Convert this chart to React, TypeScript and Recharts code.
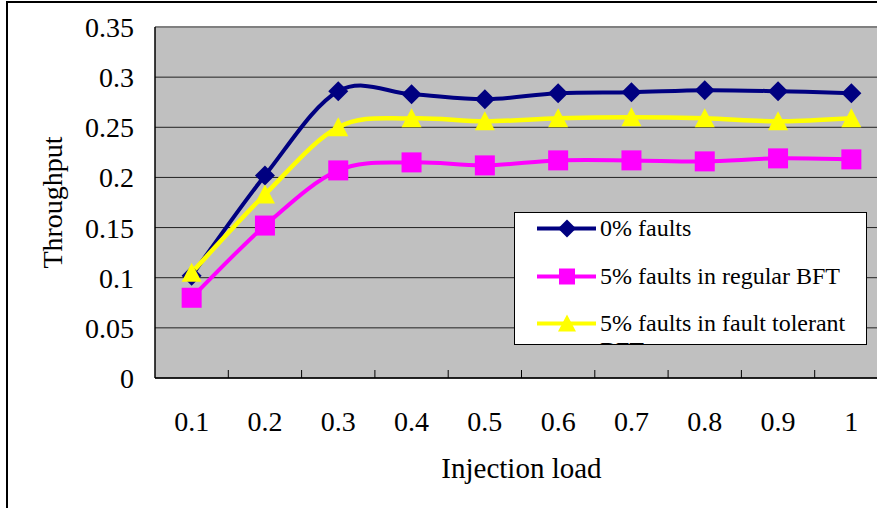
import React from "react";
import {
  LineChart,
  Line,
  XAxis,
  YAxis,
  CartesianGrid,
  Legend,
  ReferenceLine,
} from "recharts";

const LOADS = ["0.1", "0.2", "0.3", "0.4", "0.5", "0.6", "0.7", "0.8", "0.9", "1"];
const NO_FAULTS = [0.102, 0.202, 0.286, 0.283, 0.278, 0.284, 0.285, 0.287, 0.286, 0.284];
const REGULAR_BFT = [0.08, 0.152, 0.207, 0.215, 0.212, 0.217, 0.217, 0.216, 0.219, 0.218];
const TOLERANT_BFT = [0.105, 0.183, 0.25, 0.259, 0.256, 0.259, 0.26, 0.259, 0.256, 0.259];
const Y_TICKS = [0, 0.05, 0.1, 0.15, 0.2, 0.25, 0.3, 0.35];
const SERIES_ORDER = ["none", "regular", "tolerant"];

const data = LOADS.map((load, i) => ({
  load,
  none: NO_FAULTS[i],
  regular: REGULAR_BFT[i],
  tolerant: TOLERANT_BFT[i],
}));

const CHART_W = 900;
const CHART_H = 508;
const MARGIN = { top: 27, right: 12, bottom: 20, left: 55 };
const Y_AXIS_W = 100;
const X_AXIS_H = 110;
const PLOT_W = CHART_W - MARGIN.left - MARGIN.right - Y_AXIS_W;
const BAND = PLOT_W / LOADS.length;
const X_TICK_GAP = 33;

const FONT = '"Liberation Serif", "Times New Roman", serif';
const NAVY = "#000080";
const MAGENTA = "#FF00FF";
const YELLOW = "#FFFF00";

// smoothed line like the spreadsheet "smoothed line" option (Catmull-Rom through the points)
const smoothCurve = (context: any) => {
  let pts: [number, number][] = [];
  return {
    areaStart() {},
    areaEnd() {},
    lineStart() {
      pts = [];
    },
    lineEnd() {
      if (!pts.length) return;
      context.moveTo(pts[0][0], pts[0][1]);
      for (let i = 0; i < pts.length - 1; i++) {
        const p0 = pts[i - 1] || pts[i];
        const p1 = pts[i];
        const p2 = pts[i + 1];
        const p3 = pts[i + 2] || p2;
        context.bezierCurveTo(
          p1[0] + (p2[0] - p0[0]) / 6,
          p1[1] + (p2[1] - p0[1]) / 6,
          p2[0] - (p3[0] - p1[0]) / 6,
          p2[1] - (p3[1] - p1[1]) / 6,
          p2[0],
          p2[1]
        );
      }
    },
    point(x: number, y: number) {
      pts.push([+x, +y]);
    },
  };
};

/* ── marker shapes ── */
const diamond = (cx: number, cy: number, r: number, key?: string) => (
  <path key={key} d={`M${cx},${cy - r}L${cx + r},${cy}L${cx},${cy + r}L${cx - r},${cy}Z`} fill={NAVY} />
);
const square = (cx: number, cy: number, r: number, key?: string) => (
  <rect key={key} x={cx - r} y={cy - r} width={r * 2} height={r * 2} fill={MAGENTA} />
);
const triangle = (cx: number, cy: number, r: number, key?: string) => (
  <path key={key} d={`M${cx},${cy - r}L${cx + r},${cy + r * 0.9}L${cx - r},${cy + r * 0.9}Z`} fill={YELLOW} />
);

const markers: Record<string, (cx: number, cy: number, r: number, key?: string) => React.ReactElement> = {
  none: diamond,
  regular: square,
  tolerant: triangle,
};

const makeDot = (key: string, r: number) => (props: any) => {
  const { cx, cy, index } = props;
  if (cx == null || cy == null) return <g key={`${key}-${index}`} />;
  return markers[key](cx, cy, r, `${key}-${index}`);
};

function XTick({ x, y, payload }: any) {
  const axisY = y - X_TICK_GAP;
  return (
    <g>
      <line x1={x + BAND / 2} x2={x + BAND / 2} y1={axisY} y2={axisY - 8} stroke="#000" strokeWidth={1} />
      <text x={x} y={y} dy="0.71em" textAnchor="middle" fontFamily={FONT} fontSize={28} fill="#000">
        {payload.value}
      </text>
    </g>
  );
}

function LegendBox({ payload }: any) {
  const items = [...(payload || [])].sort(
    (a: any, b: any) => SERIES_ORDER.indexOf(a.dataKey) - SERIES_ORDER.indexOf(b.dataKey)
  );
  return (
    <div
      style={{
        width: 353,
        height: 133,
        boxSizing: "border-box",
        border: "1px solid #000",
        background: "#fff",
        overflow: "hidden",
        position: "relative",
        fontFamily: FONT,
        fontSize: 24,
        color: "#000",
      }}
    >
      {items.map((entry: any, i: number) => (
        <div key={entry.dataKey} style={{ position: "absolute", top: 2 + 47.5 * i, left: 0 }}>
          <svg width={62} height={27} style={{ position: "absolute", left: 22, top: 0 }}>
            <line x1={0} x2={59} y1={13.5} y2={13.5} stroke={entry.color} strokeWidth={4} />
            {markers[entry.dataKey](30, 13.5, entry.dataKey === "regular" ? 8 : 9)}
          </svg>
          <div style={{ position: "absolute", left: 85, top: 0, width: 262, lineHeight: "27px" }}>
            {entry.value}
          </div>
        </div>
      ))}
    </div>
  );
}

export default function App() {
  return (
    <div
      style={{
        position: "absolute",
        left: 0,
        top: 0,
        width: 877,
        height: 508,
        overflow: "hidden",
        background: "#fff",
      }}
    >
      {/* chart frame */}
      <div
        style={{
          position: "absolute",
          left: 6,
          top: 1,
          width: 1000,
          height: 1000,
          border: "2px solid #000",
        }}
      />
      <div style={{ position: "absolute", left: 0, top: 0 }}>
        <LineChart width={CHART_W} height={CHART_H} data={data} margin={MARGIN}>
          <CartesianGrid horizontal vertical={false} fill="#C0C0C0" stroke="#222" strokeWidth={1} />
          <XAxis
            dataKey="load"
            scale="band"
            height={X_AXIS_H}
            axisLine={{ stroke: "#000", strokeWidth: 1.5 }}
            tickLine={false}
            tickSize={0}
            tickMargin={X_TICK_GAP}
            tick={<XTick />}
            interval={0}
            label={{
              value: "Injection load",
              position: "insideBottom",
              offset: 10,
              style: { fontFamily: FONT, fontSize: 29, fill: "#000" },
            }}
          />
          <YAxis
            type="number"
            domain={[0, 0.35]}
            ticks={Y_TICKS}
            width={Y_AXIS_W}
            axisLine={{ stroke: "#000", strokeWidth: 1.5 }}
            tickLine={false}
            tickSize={0}
            tickMargin={21}
            tick={{ fontFamily: FONT, fontSize: 28, fill: "#000" }}
            label={{
              value: "Throughput",
              angle: -90,
              position: "center",
              dx: -53,
              style: { fontFamily: FONT, fontSize: 28, fill: "#000", textAnchor: "middle" },
            }}
          />
          <ReferenceLine y={0.35} stroke="#808080" strokeWidth={2} />
          <Legend
            layout="vertical"
            align="center"
            verticalAlign="middle"
            content={<LegendBox />}
            wrapperStyle={{ position: "absolute", left: 514, top: 212, width: 353, height: 133 }}
          />
          <Line
            dataKey="none"
            name="0% faults"
            type={smoothCurve as any}
            stroke={NAVY}
            strokeWidth={4}
            dot={makeDot("none", 10)}
            activeDot={false}
            isAnimationActive={false}
          />
          <Line
            dataKey="regular"
            name="5% faults in regular BFT"
            type={smoothCurve as any}
            stroke={MAGENTA}
            strokeWidth={4}
            dot={makeDot("regular", 10)}
            activeDot={false}
            isAnimationActive={false}
          />
          <Line
            dataKey="tolerant"
            name="5% faults in fault tolerant BFT"
            type={smoothCurve as any}
            stroke={YELLOW}
            strokeWidth={4.5}
            dot={makeDot("tolerant", 10)}
            activeDot={false}
            isAnimationActive={false}
          />
        </LineChart>
      </div>
    </div>
  );
}
